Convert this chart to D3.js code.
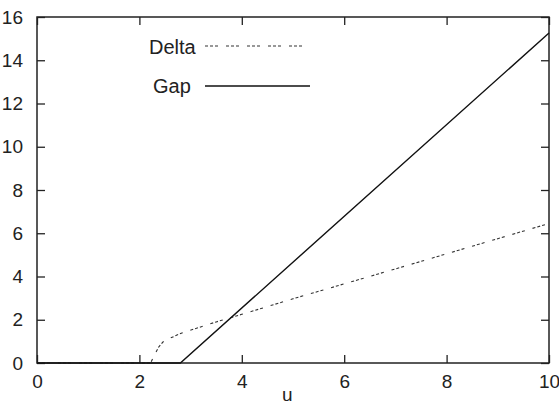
<!DOCTYPE html>
<html>
<head>
<meta charset="utf-8">
<script src="https://cdn.jsdelivr.net/npm/d3@7"></script>
<style>
  body { margin: 0; background: #fff; }
  text { font-family: "Liberation Sans", Arial, Helvetica, sans-serif; fill: #222; }
</style>
</head>
<body>
<div id="chart"></div>
<script>
// Data
const xTicks = [0, 2, 4, 6, 8, 10];
const yTicks = [0, 2, 4, 6, 8, 10, 12, 14, 16];

const deltaU = [0, 2.22, 2.3, 2.38, 2.46, 2.6, 2.83, 3.5, 4, 5, 6, 7, 8, 9, 10];
const deltaV = [0, 0, 0.4, 0.75, 0.97, 1.15, 1.39, 1.9, 2.25, 2.97, 3.66, 4.35, 5.05, 5.75, 6.45];

const gapU = [0, 2.8, 10];
const gapV = [0, 0, 15.26];

const W = 559, H = 405;
const margin = { top: 17, right: 10, bottom: 42, left: 37 };
const width = W - margin.left - margin.right,
      height = H - margin.top - margin.bottom;

const svg = d3.select("#chart").append("svg")
  .attr("width", W).attr("height", H);

const g = svg.append("g")
  .attr("transform", `translate(${margin.left},${margin.top})`);

const x = d3.scaleLinear().domain([0, 10]).range([0, width]);
const y = d3.scaleLinear().domain([0, 16]).range([height, 0]);

// Axes with inward ticks on all four sides
const tickLen = 8;
function styleAxis(sel) {
  sel.select(".domain").remove();
  sel.selectAll(".tick line").attr("stroke", "#222").attr("stroke-width", 1.3);
  sel.selectAll("text").style("font-size", "19px");
}

g.append("g")
  .attr("transform", `translate(0,${height})`)
  .call(d3.axisBottom(x).tickValues(xTicks).tickSizeInner(-tickLen).tickSizeOuter(0).tickPadding(12))
  .call(styleAxis)
  .selectAll("text").attr("dy", "0.66em");

g.append("g")
  .call(d3.axisTop(x).tickValues(xTicks).tickSizeInner(-tickLen).tickSizeOuter(0).tickFormat(""))
  .call(styleAxis);

g.append("g")
  .call(d3.axisLeft(y).tickValues(yTicks).tickSizeInner(-tickLen).tickSizeOuter(0).tickPadding(14))
  .call(styleAxis);

g.append("g")
  .attr("transform", `translate(${width},0)`)
  .call(d3.axisRight(y).tickValues(yTicks).tickSizeInner(-tickLen).tickSizeOuter(0).tickFormat(""))
  .call(styleAxis);

// Frame
g.append("rect")
  .attr("width", width).attr("height", height)
  .attr("fill", "none").attr("stroke", "#222").attr("stroke-width", 1.5);

// Axis label
g.append("text")
  .attr("x", x(4.89)).attr("y", height + 38)
  .attr("text-anchor", "middle")
  .style("font-size", "19px")
  .text("u");

// Lines
const line = d3.line().x(d => x(d[0])).y(d => y(d[1]));

g.append("path")
  .datum(deltaU.map((u, i) => [u, deltaV[i]]))
  .attr("d", line)
  .attr("fill", "none")
  .attr("stroke", "#333")
  .attr("stroke-width", 1.1)
  .attr("stroke-dasharray", "3,2,3,2,3,8");

g.append("path")
  .datum(gapU.map((u, i) => [u, gapV[i]]))
  .attr("d", line)
  .attr("fill", "none")
  .attr("stroke", "#111")
  .attr("stroke-width", 1.4);

// Legend
const legend = svg.append("g");
legend.append("text")
  .attr("x", 149).attr("y", 54)
  .style("font-size", "20px")
  .text("Delta");
legend.append("line")
  .attr("x1", 205).attr("x2", 303).attr("y1", 46).attr("y2", 46)
  .attr("stroke", "#333").attr("stroke-width", 1.1)
  .attr("stroke-dasharray", "3,2,3,2,3,8");

legend.append("text")
  .attr("x", 153).attr("y", 93)
  .style("font-size", "20px")
  .text("Gap");
legend.append("line")
  .attr("x1", 205).attr("x2", 310).attr("y1", 86).attr("y2", 86)
  .attr("stroke", "#111").attr("stroke-width", 1.4);
</script>
</body>
</html>
